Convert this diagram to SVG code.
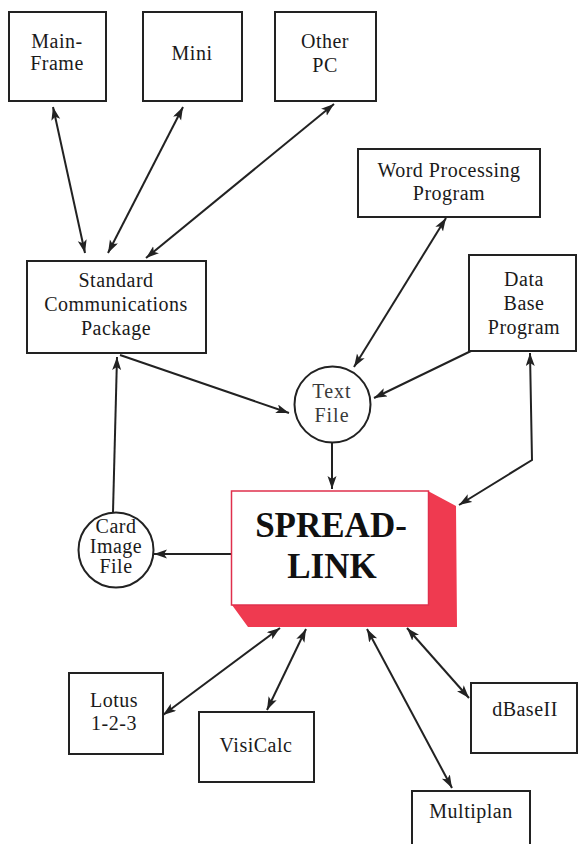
<svg xmlns="http://www.w3.org/2000/svg" width="578" height="844" viewBox="0 0 578 844">
<style>
  .box { fill: #ffffff; stroke: #222222; stroke-width: 2; }
  .t { font-family: "Liberation Serif", "Times New Roman", serif; font-size: 20px; fill: #1a1a1a; text-anchor: middle; letter-spacing: 0.5px; }
  .tf { fill: #3a3a3a; letter-spacing: 1px; }
  .big { font-family: "Liberation Serif", "Times New Roman", serif; font-size: 35px; font-weight: bold; fill: #111111; text-anchor: middle; }
  .c { fill: none; stroke: #222222; stroke-width: 2; }
</style>
<defs>
  <marker id="ah" markerUnits="userSpaceOnUse" markerWidth="14" markerHeight="10" refX="13" refY="4.5" orient="auto-start-reverse" viewBox="0 0 14 10">
    <path d="M0,0 L13,4.5 L0,9 L3,4.5 Z" fill="#222222"/>
  </marker>
</defs>
<rect width="578" height="844" fill="#ffffff"/>

<g id="connectors">
  <path class="c" d="M53,107 L85,253" marker-start="url(#ah)" marker-end="url(#ah)"/>
  <path class="c" d="M183,107 L108,253" marker-start="url(#ah)" marker-end="url(#ah)"/>
  <path class="c" d="M334,104 L146,258" marker-start="url(#ah)" marker-end="url(#ah)"/>
  <path class="c" d="M446,218 L354,367" marker-start="url(#ah)" marker-end="url(#ah)"/>
  <path class="c" d="M120,355 L289,413" marker-end="url(#ah)"/>
  <path class="c" d="M471,351 L374,398" marker-end="url(#ah)"/>
  <path class="c" d="M530,353 L532,460 L459,505" marker-start="url(#ah)" marker-end="url(#ah)"/>
  <path class="c" d="M332,443 L332,489" marker-end="url(#ah)"/>
  <path class="c" d="M113,512 L117,357" marker-end="url(#ah)"/>
  <path class="c" d="M231,554 L154,554" marker-end="url(#ah)"/>
  <path class="c" d="M163,715 L280,628" marker-start="url(#ah)" marker-end="url(#ah)"/>
  <path class="c" d="M267,710 L306,629" marker-start="url(#ah)" marker-end="url(#ah)"/>
  <path class="c" d="M452,788 L367,629" marker-start="url(#ah)" marker-end="url(#ah)"/>
  <path class="c" d="M469,698 L407,628" marker-start="url(#ah)" marker-end="url(#ah)"/>
</g>

<g id="mainframe">
  <rect class="box" x="9" y="12" width="97" height="89"/>
  <text class="t" x="57" y="48">Main-</text>
  <text class="t" x="57" y="70">Frame</text>
</g>
<g id="mini">
  <rect class="box" x="143" y="12" width="99" height="89"/>
  <text class="t" x="192" y="60">Mini</text>
</g>
<g id="otherpc">
  <rect class="box" x="275" y="12" width="101" height="89"/>
  <text class="t" x="325" y="48">Other</text>
  <text class="t" x="325" y="72">PC</text>
</g>
<g id="wordprocessing">
  <rect class="box" x="358" y="149" width="182" height="68"/>
  <text class="t" x="449" y="177">Word Processing</text>
  <text class="t" x="449" y="200">Program</text>
</g>
<g id="comms">
  <rect class="box" x="27" y="261" width="179" height="92"/>
  <text class="t" x="116" y="287">Standard</text>
  <text class="t" x="116" y="311">Communications</text>
  <text class="t" x="116" y="335">Package</text>
</g>
<g id="database">
  <rect class="box" x="469" y="255" width="107" height="96"/>
  <text class="t" x="524" y="286">Data</text>
  <text class="t" x="524" y="310">Base</text>
  <text class="t" x="524" y="334">Program</text>
</g>
<g id="textfile">
  <circle class="box" cx="332.5" cy="404.5" r="38"/>
  <text class="t tf" x="332" y="398">Text</text>
  <text class="t tf" x="332" y="422">File</text>
</g>
<g id="cardimage">
  <circle class="box" cx="116" cy="550" r="37.5"/>
  <text class="t" x="116" y="533">Card</text>
  <text class="t" x="116" y="553">Image</text>
  <text class="t" x="116" y="573">File</text>
</g>
<g id="spreadlink">
  <polygon points="428,491 456,506 457,627 248,627 232,605 428,605" fill="#ef3a50"/>
  <rect x="231.5" y="491" width="197" height="114" fill="#ffffff" stroke="#e0304c" stroke-width="1.5"/>
  <text class="big" x="331" y="537">SPREAD-</text>
  <text class="big" x="332" y="578">LINK</text>
</g>
<g id="lotus">
  <rect class="box" x="69" y="673" width="94" height="81"/>
  <text class="t" x="114" y="707">Lotus</text>
  <text class="t" x="114" y="730">1-2-3</text>
</g>
<g id="visicalc">
  <rect class="box" x="199" y="712" width="115" height="70"/>
  <text class="t" x="256" y="752">VisiCalc</text>
</g>
<g id="dbase">
  <rect class="box" x="471" y="683" width="106" height="70"/>
  <text class="t" x="525" y="716">dBaseII</text>
</g>
<g id="multiplan">
  <rect class="box" x="412" y="791" width="118" height="54"/>
  <text class="t" x="471" y="818">Multiplan</text>
</g>
</svg>
